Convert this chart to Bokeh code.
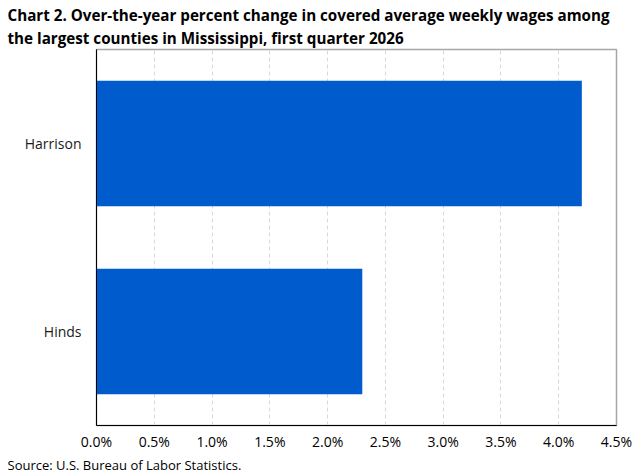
from bokeh.plotting import figure
from bokeh.models import FactorRange, FixedTicker, PrintfTickFormatter, Title, ColumnDataSource
from bokeh.embed import file_html
from bokeh.resources import INLINE

counties = ["Hinds", "Harrison"]
pct_change = [2.3, 4.2]
x_ticks = [0.0, 0.5, 1.0, 1.5, 2.0, 2.5, 3.0, 3.5, 4.0, 4.5]

title_text = ("Chart 2. Over-the-year percent change in covered average weekly wages among\n"
              "the largest counties in Mississippi, first quarter 2026")
source_text = "Source: U.S. Bureau of Labor Statistics."

FONT = "Open Sans"

src = ColumnDataSource(dict(county=counties, value=pct_change))

p = figure(width=635, height=473, y_range=FactorRange(*counties), x_range=(0, 4.5),
           output_backend="svg", toolbar_location=None,
           min_border_left=96, min_border_right=19, min_border_top=48, min_border_bottom=38)

p.hbar(y="county", right="value", left=0, height=0.668, source=src,
       fill_color="#005BCC", line_color=None)

p.title = Title(text=title_text, align="left", offset=-89, text_font=FONT,
                text_font_size="15.2px", text_font_style="bold", text_color="#000000",
                text_line_height=1.15, standoff=4)

p.add_layout(Title(text=source_text, align="left", offset=-89, text_font=FONT,
                   text_font_size="13px", text_font_style="normal", text_color="#000000",
                   standoff=0, text_line_height=0.92), "below")

p.outline_line_color = "#A6A6A6"
p.outline_line_width = 1.5

p.xaxis.ticker = FixedTicker(ticks=x_ticks)
p.xaxis.formatter = PrintfTickFormatter(format="%.1f%%")
p.xaxis.major_tick_line_color = None
p.xaxis.minor_tick_line_color = None
p.xaxis.axis_line_color = "#000000"
p.xaxis.major_label_text_font = FONT
p.xaxis.major_label_text_font_size = "14px"
p.xaxis.major_label_text_color = "#000000"
p.xaxis.major_label_standoff = 0

p.yaxis.major_tick_line_color = None
p.yaxis.minor_tick_line_color = None
p.yaxis.axis_line_color = "#000000"
p.yaxis.major_label_text_font = FONT
p.yaxis.major_label_text_font_size = "14px"
p.yaxis.major_label_text_color = "#1a1a1a"
p.yaxis.major_label_standoff = 9

p.xgrid.grid_line_color = "#D9D9D9"
p.xgrid.grid_line_dash = "4 3"
p.ygrid.grid_line_color = None

open("out.html", "w").write(file_html(p, INLINE))
